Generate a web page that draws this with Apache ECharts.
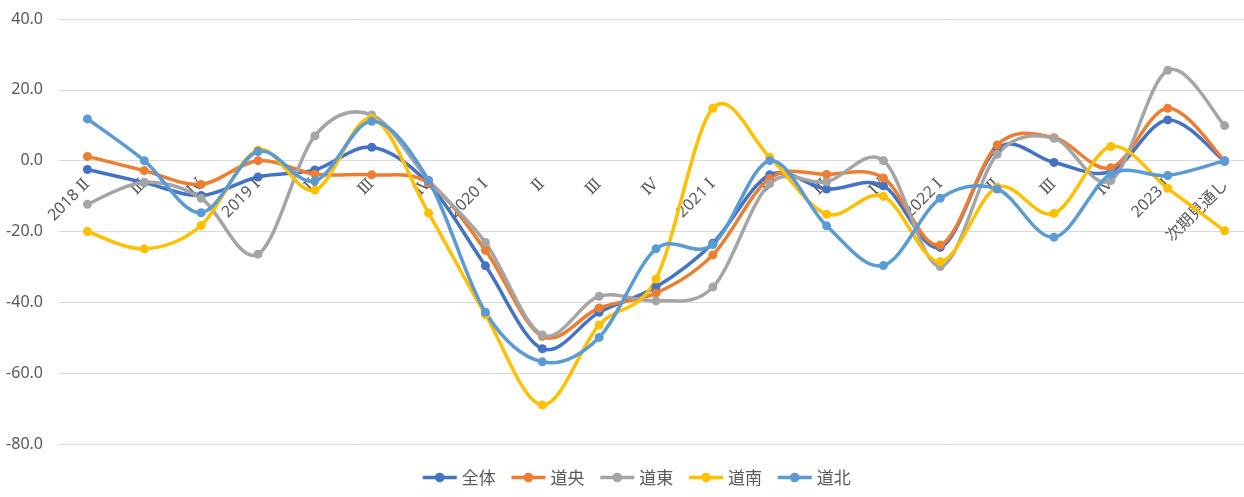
<!DOCTYPE html>
<html>
<head>
<meta charset="utf-8">
<script src="https://cdn.jsdelivr.net/npm/echarts@6/dist/echarts.min.js"></script>
<style>
  html, body { margin: 0; padding: 0; background: #fff; }
  #chart { width: 1244px; height: 497px; }
</style>
</head>
<body>
<div id="chart"></div>
<script>
// Quarterly categories (year + quarter numeral), last one is the outlook
const categories = ['2018 Ⅱ', 'Ⅲ', 'Ⅳ', '2019 Ⅰ', 'Ⅱ', 'Ⅲ', 'Ⅳ', '2020 Ⅰ', 'Ⅱ', 'Ⅲ', 'Ⅳ',
  '2021 Ⅰ', 'Ⅱ', 'Ⅲ', 'Ⅳ', '2022 Ⅰ', 'Ⅱ', 'Ⅲ', 'Ⅳ', '2023 Ⅰ', '次期見通し'];

const zentai = [-2.5, -6.2, -9.8, -4.6, -2.6, 3.8, -6.5, -29.7, -53.1, -42.8, -35.7,
  -23.3, -4.0, -8.0, -7.1, -24.5, 3.5, -0.5, -3.0, 11.5, -0.2];
const dooh = [1.2, -2.8, -6.7, 0.0, -3.8, -4.0, -6.3, -25.3, -49.6, -41.6, -37.4,
  -26.6, -5.0, -3.9, -4.9, -23.8, 4.4, 6.5, -2.0, 14.8, 0.0];
const dotoh = [-12.3, -6.1, -10.6, -26.4, 7.0, 12.9, -5.5, -23.1, -49.2, -38.3, -39.6,
  -35.7, -6.5, -6.0, 0.0, -29.9, 1.8, 6.3, -5.6, 25.5, 9.9];
const donan = [-20.0, -24.9, -18.3, 3.0, -8.3, 12.0, -14.8, -43.5, -69.0, -46.4, -33.4,
  14.8, 1.0, -15.1, -10.1, -28.5, -7.5, -14.9, 4.0, -7.8, -19.8];
const dohoku = [11.8, 0.0, -14.7, 2.6, -5.7, 11.1, -5.6, -42.8, -56.8, -49.9, -24.9,
  -23.7, 0.0, -18.4, -29.6, -10.6, -8.0, -21.6, -3.8, -4.2, 0.0];

const seriesNames = ['全体', '道央', '道東', '道南', '道北'];
const seriesValues = [zentai, dooh, dotoh, donan, dohoku];
const seriesColors = ['#4472C4', '#ED7D31', '#A5A5A5', '#FFC000', '#5B9BD5'];

const yTicks = { min: -80, max: 40, step: 20 };

const textColor = '#595959';
const gridColor = '#D9D9D9';
const sansFont = '"Noto Sans", "Noto Sans CJK JP", sans-serif';
const lineWidth = 3.5;

// plot area
const plotTop = 19, plotHeight = 425;
// distance from the bottom edge up to the zero line, so the category axis sits at 0
const zeroOffset = plotHeight * (0 - yTicks.min) / (yTicks.max - yTicks.min);

const chart = echarts.init(document.getElementById('chart'), null, { renderer: 'canvas' });

// split "2019 Ⅰ" into the year part and the quarter numeral
function catLabel(value) {
  const m = value.match(/^(\d{4}\s)?([ⅠⅡⅢⅣ])$/);
  if (!m) return '{j|' + value + '}';
  return (m[1] ? '{y|' + m[1] + '}' : '') + '{r|' + m[2] + '}';
}

// Cardinal (Catmull-Rom) spline segment between point k and k+1,
// computed in pixel space from the axis scales.
function splineRenderer(values, color) {
  return function (params, api) {
    const k = params.dataIndex;
    const n = values.length;
    if (k >= n - 1) return null;
    const pt = j => {
      const c = Math.max(0, Math.min(n - 1, j));
      return api.coord([c, values[c]]);
    };
    const p0 = pt(k - 1), p1 = pt(k), p2 = pt(k + 1), p3 = pt(k + 2);
    return {
      type: 'bezierCurve',
      shape: {
        x1: p1[0], y1: p1[1],
        cpx1: p1[0] + (p2[0] - p0[0]) / 6, cpy1: p1[1] + (p2[1] - p0[1]) / 6,
        cpx2: p2[0] - (p3[0] - p1[0]) / 6, cpy2: p2[1] - (p3[1] - p1[1]) / 6,
        x2: p2[0], y2: p2[1]
      },
      style: { stroke: color, lineWidth: lineWidth, fill: null, lineCap: 'round', lineJoin: 'round' },
      silent: true
    };
  };
}

const series = [];
seriesNames.forEach((name, i) => {
  const color = seriesColors[i];
  const values = seriesValues[i];
  // smoothed curve of the region
  series.push({
    id: 'curve-' + i,
    type: 'custom',
    coordinateSystem: 'cartesian2d',
    data: values.map((v, k) => [k, v]),
    encode: { x: 0, y: 1 },
    renderItem: splineRenderer(values, color),
    clip: false,
    itemStyle: { color: color }
  });
  // point markers (the path itself is drawn by the curve above)
  series.push({
    name: name,
    type: 'line',
    data: values,
    symbol: 'circle',
    symbolSize: 9,
    showSymbol: true,
    color: color,
    lineStyle: { width: lineWidth, color: color, opacity: 0 },
    itemStyle: { color: color }
  });
});

chart.setOption({
  animation: false,
  backgroundColor: '#ffffff',
  grid: {
    left: 59, top: plotTop, width: 1194, height: plotHeight,
    containLabel: false, outerBoundsMode: 'none'
  },
  xAxis: {
    type: 'category',
    data: categories,
    boundaryGap: true,
    position: 'bottom',
    offset: -zeroOffset,
    axisLine: { show: true, onZero: false, lineStyle: { color: gridColor, width: 1 } },
    axisTick: { show: false },
    axisLabel: {
      interval: 0,
      rotate: 45,
      margin: 21,
      color: textColor,
      fontSize: 16,
      formatter: catLabel,
      rich: {
        y: { fontFamily: sansFont, fontSize: 16, color: textColor },
        r: { fontFamily: '"DejaVu Serif", "Noto Sans CJK JP", serif', fontSize: 16, color: textColor },
        j: { fontFamily: '"Noto Sans CJK JP", sans-serif', fontSize: 16, color: textColor }
      }
    },
    splitLine: { show: false }
  },
  yAxis: {
    type: 'value',
    min: yTicks.min,
    max: yTicks.max,
    interval: yTicks.step,
    axisLine: { show: false },
    axisTick: { show: false },
    axisLabel: {
      margin: 16,
      color: textColor,
      fontSize: 16,
      fontFamily: sansFont,
      formatter: v => v.toFixed(1)
    },
    splitLine: { lineStyle: { color: gridColor, width: 1 } }
  },
  legend: {
    left: 421,
    top: 469,
    padding: 0,
    itemWidth: 34,
    itemHeight: 12,
    itemGap: 14,
    textStyle: { color: textColor, fontSize: 17, fontFamily: '"Noto Sans CJK JP", sans-serif' },
    data: seriesNames.map((name, i) => ({
      name: name,
      itemStyle: { color: seriesColors[i] },
      lineStyle: { color: seriesColors[i], width: lineWidth, opacity: 1 }
    }))
  },
  series: series
});
</script>
</body>
</html>
